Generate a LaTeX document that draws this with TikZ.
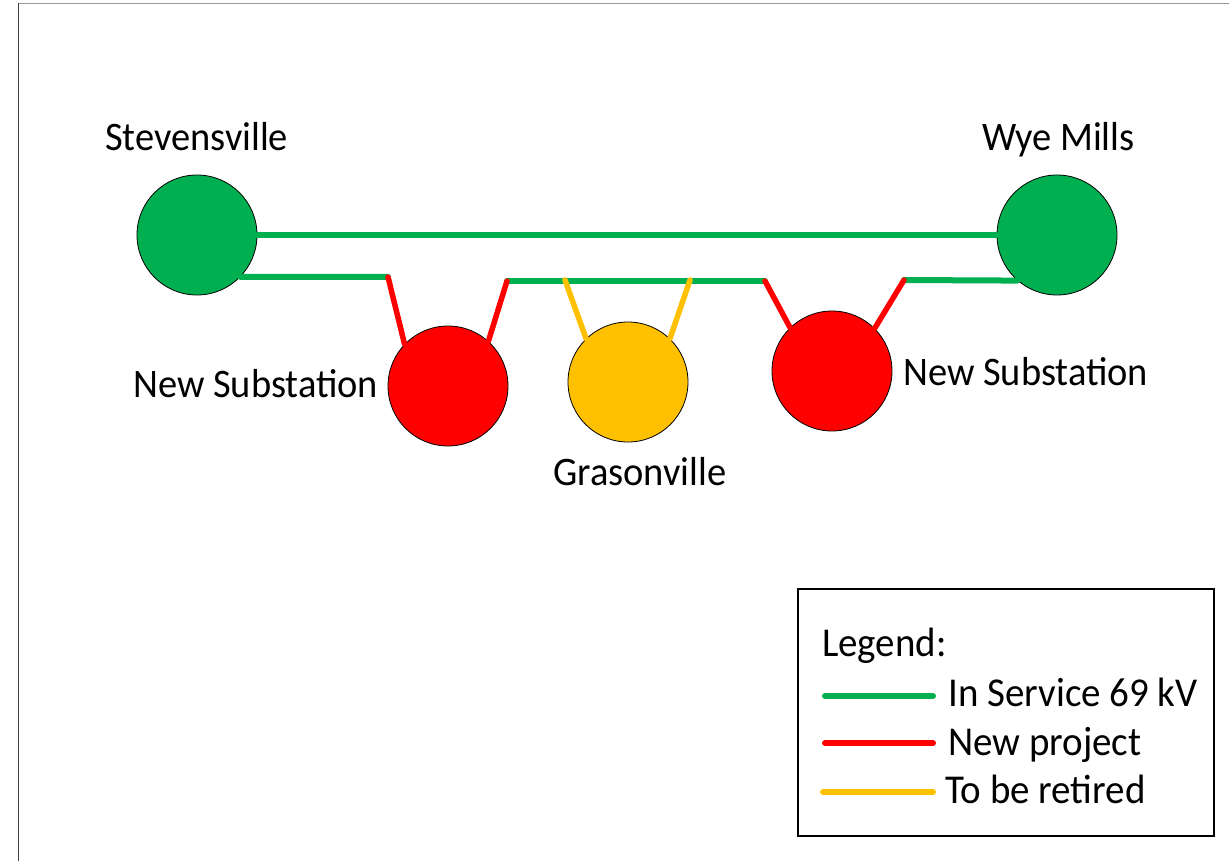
\documentclass[tikz,border=0pt]{standalone}
\usepackage{fontspec}
\setmainfont{Carlito}
\newfontfamily\labelfont[FakeStretch=0.95]{Carlito}
\definecolor{cgreen}{HTML}{00B050}
\definecolor{cred}{HTML}{FF0000}
\definecolor{cyellow}{HTML}{FFC000}
\tikzset{
  bus/.style={circle, draw=black, line width=0.8pt, minimum size=120pt, inner sep=0pt},
  feeder/.style={line width=6pt, line cap=round},
  inservice/.style={feeder, cgreen},
  newline/.style={feeder, cred, line width=5.5pt},
  retired/.style={feeder, cyellow, line width=5.5pt},
  stationlabel/.style={inner sep=0pt, anchor=base west, font=\fontsize{40.5}{48}\labelfont},
  legendtext/.style={inner sep=0pt, anchor=base west, font=\fontsize{41}{48}\labelfont},
}
\begin{document}
\begin{tikzpicture}[x=1pt, y=-1pt]
\useasboundingbox (0,0) rectangle (1229,861);

% partial page frame
\draw[line width=1.5pt, gray!80] (18.5,3.5) -- (1229,3.5);
\draw[line width=1.5pt, black!75] (18.5,3.5) -- (18.5,861);

% substations
\node[bus, fill=cgreen]  (stev) at (197,235) {};
\node[bus, fill=cgreen]  (wye)  at (1057,235) {};
\node[bus, fill=cred]    (subA) at (448,386) {};
\node[bus, fill=cyellow] (gras) at (628,382) {};
\node[bus, fill=cred]    (subB) at (832,371) {};

% line junctions
\coordinate (j1) at (388,277);
\coordinate (j2) at (507,281);
\coordinate (j3) at (765,281);
\coordinate (j4) at (904,280);
\coordinate (y1) at (565,280);
\coordinate (y2) at (690,280);

% 69 kV lines in service
\draw[inservice] (stev.east) -- (wye.west);
\draw[inservice] (stev.-44) -- (j1);
\draw[inservice] (j2) -- (j3);
\draw[inservice] (j4) -- (wye.-131);

% new taps
\draw[newline] (j1) -- (subA.136);
\draw[newline] (j2) -- (subA.48);
\draw[newline] (j3) -- (subB.134);
\draw[newline] (j4) -- (subB.45);

% taps to be retired
\draw[retired] (y1) -- (gras.134);
\draw[retired] (y2) -- (gras.46);

% station names
\node[stationlabel] (lstev) at (105,151) {Stevensville};
\node[stationlabel] (lwye)  at (982,151) {Wye Mills};
\node[stationlabel] (lsubA) at (133,397) {New Substation};
\node[stationlabel] (lsubB) at (903,385) {New Substation};
\node[stationlabel] (lgras) at (553,485) {Grasonville};

% legend
\node[draw=black, line width=2pt, anchor=north west, minimum width=416pt, minimum height=247pt, inner sep=0pt] (legend) at (797,588) {};
\node[legendtext] (lhead) at (822,656) {Legend:};
\draw[inservice] (825,696) -- (933,696);
\node[legendtext] (lk1) at (948,706) {In Service 69 kV};
\draw[newline, line width=6pt] (825,743) -- (933,743);
\node[legendtext] (lk2) at (948,755) {New project};
\draw[retired, line width=6pt] (823,792) -- (933,792);
\node[legendtext] (lk3) at (945,803) {To be retired};
\end{tikzpicture}
\end{document}
